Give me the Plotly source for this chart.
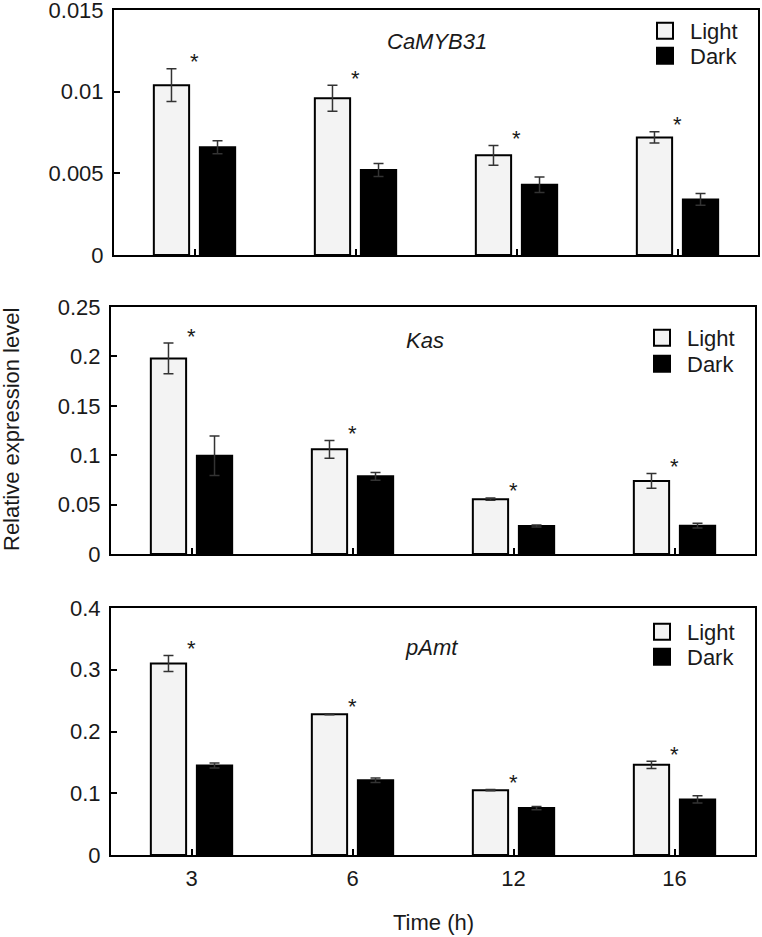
import plotly.graph_objects as go

# ---------------- data ----------------
times = ["3", "6", "12", "16"]
genes = ["CaMYB31", "Kas", "pAmt"]
conditions = ["Light", "Dark"]

camyb_light = [0.0104, 0.0096, 0.0061, 0.0072]
camyb_light_err = [0.0010, 0.0008, 0.0006, 0.00035]
camyb_dark = [0.0066, 0.0052, 0.0043, 0.0034]
camyb_dark_err = [0.0004, 0.0004, 0.00047, 0.00036]

kas_light = [0.198, 0.106, 0.0555, 0.074]
kas_light_err = [0.0155, 0.009, 0.0012, 0.0074]
kas_dark = [0.0995, 0.0786, 0.0283, 0.0287]
kas_dark_err = [0.020, 0.004, 0.001, 0.0024]

pamt_light = [0.310, 0.228, 0.105, 0.146]
pamt_light_err = [0.013, 0.0008, 0.001, 0.006]
pamt_dark = [0.145, 0.121, 0.076, 0.090]
pamt_dark_err = [0.004, 0.0037, 0.0027, 0.0058]

y_ranges = [[0, 0.015], [0, 0.25], [0, 0.4]]
y_tickvals = [
    [0, 0.005, 0.01, 0.015],
    [0, 0.05, 0.1, 0.15, 0.2, 0.25],
    [0, 0.1, 0.2, 0.3, 0.4],
]
y_ticktext = [
    ["0", "0.005", "0.01", "0.015"],
    ["0", "0.05", "0.1", "0.15", "0.2", "0.25"],
    ["0", "0.1", "0.2", "0.3", "0.4"],
]

panels = [
    (camyb_light, camyb_light_err, camyb_dark, camyb_dark_err),
    (kas_light, kas_light_err, kas_dark, kas_dark_err),
    (pamt_light, pamt_light_err, pamt_dark, pamt_dark_err),
]

FONT = "Arial, Liberation Sans, sans-serif"
TXT = "#1a1a1a"
FILLS = {"Light": "#f3f3f3", "Dark": "#000000"}

W, H = 762, 937
ML, MR, MT, MB = 111, 4, 10, 82
PW, PH = W - ML - MR, H - MT - MB

def px_x(p):
    return (p - ML) / PW

def px_y(p):
    return (H - MB - p) / PH

fig = go.Figure()

x_domains = [[px_x(114), 1.0], [0.0, px_x(755)], [0.0, px_x(755)]]
y_domains = [[px_y(255), 1.0], [px_y(554), px_y(307)], [0.0, px_y(608)]]
# (x, top-y) in pixels for Light and Dark legend entries in each panel
legend_pos = [((640, 10), (640, 35)),
              ((637, 317), (637, 343)),
              ((637, 611), (637, 636))]
label_pos = [(437, 42), (425, 340), (431, 647)]

legend_idx = 0
for i, (l, le, d, de) in enumerate(panels):
    sfx = "" if i == 0 else str(i + 1)
    xa, ya = "x" + sfx, "y" + sfx
    for nm, vals, errs in (("Light", l, le), ("Dark", d, de)):
        fig.add_trace(go.Bar(
            x=times, y=vals, xaxis=xa, yaxis=ya, name=nm, showlegend=False,
            marker=dict(color=FILLS[nm], line=dict(color="black", width=2)),
            error_y=dict(type="data", array=errs, color="#333333",
                         thickness=1.5, width=5),
        ))
    # legend entries: one single-item legend each, for tight spacing
    for j, nm in enumerate(conditions):
        legend_idx += 1
        lg = "legend" if legend_idx == 1 else "legend%d" % legend_idx
        fig.add_trace(go.Scatter(
            x=[None], y=[None], xaxis=xa, yaxis=ya, mode="markers", name=nm,
            legend=lg, showlegend=True,
            marker=dict(symbol="square", size=16, color=FILLS[nm],
                        line=dict(color="black", width=2)),
        ))
        lx, ly = legend_pos[i][j]
        fig.update_layout(**{lg: dict(
            x=px_x(lx), y=px_y(ly), xanchor="left", yanchor="top",
            xref="paper", yref="paper", itemwidth=40,
            bgcolor="rgba(0,0,0,0)", borderwidth=0, tracegroupgap=0,
            font=dict(family=FONT, size=22, color=TXT),
        )})
    # significance asterisks (category index positions)
    for k, (v, e) in enumerate(zip(l, le)):
        fig.add_annotation(x=k, y=v + e, xref=xa, yref=ya, text="*",
                           showarrow=False, yanchor="middle", yshift=7,
                           font=dict(family=FONT, size=22, color=TXT))
    # gene label
    gx, gy = label_pos[i]
    fig.add_annotation(x=px_x(gx), y=px_y(gy), xref="paper", yref="paper",
                       text="<i>%s</i>" % genes[i], showarrow=False,
                       xanchor="center", yanchor="middle",
                       font=dict(family=FONT, size=22, color=TXT))

    axx = dict(
        domain=x_domains[i], type="category", anchor=ya,
        categoryorder="array", categoryarray=times,
        range=[-0.5, len(times) - 0.5], automargin=False,
        showline=True, linewidth=2, linecolor="black", mirror=True,
        ticks="inside", ticklen=6, tickwidth=2, tickcolor="black",
        showgrid=False, zeroline=False,
        showticklabels=(i == 2), ticklabelstandoff=3,
        tickfont=dict(family=FONT, size=22, color=TXT),
    )
    axy = dict(
        domain=y_domains[i], anchor=xa, range=y_ranges[i],
        tickmode="array", tickvals=y_tickvals[i], ticktext=y_ticktext[i],
        automargin=False, ticklabeloverflow="allow",
        showline=True, linewidth=2, linecolor="black", mirror=True,
        ticks="inside", ticklen=6, tickwidth=2, tickcolor="black",
        showgrid=False, zeroline=False, ticklabelstandoff=4,
        tickfont=dict(family=FONT, size=22, color=TXT),
    )
    fig.update_layout(**{"xaxis" + sfx: axx, "yaxis" + sfx: axy})

# axis titles
fig.add_annotation(x=px_x(11), y=px_y(430), xref="paper", yref="paper",
                   text="Relative expression level", textangle=-90,
                   showarrow=False, xanchor="center", yanchor="middle",
                   font=dict(family=FONT, size=22, color=TXT))
fig.add_annotation(x=px_x(433), y=px_y(922), xref="paper", yref="paper",
                   text="Time (h)", showarrow=False,
                   xanchor="center", yanchor="middle",
                   font=dict(family=FONT, size=22, color=TXT))

fig.update_layout(
    width=W, height=H,
    margin=dict(l=ML, r=MR, t=MT, b=MB, autoexpand=False),
    paper_bgcolor="white", plot_bgcolor="white",
    barmode="group", bargap=0.428, bargroupgap=0.234,
    font=dict(family=FONT, size=22, color=TXT),
)

fig.write_html(
    "out.html",
    config={"displayModeBar": False},
    post_script="document.body.style.margin='0';document.body.style.padding='0';",
)
